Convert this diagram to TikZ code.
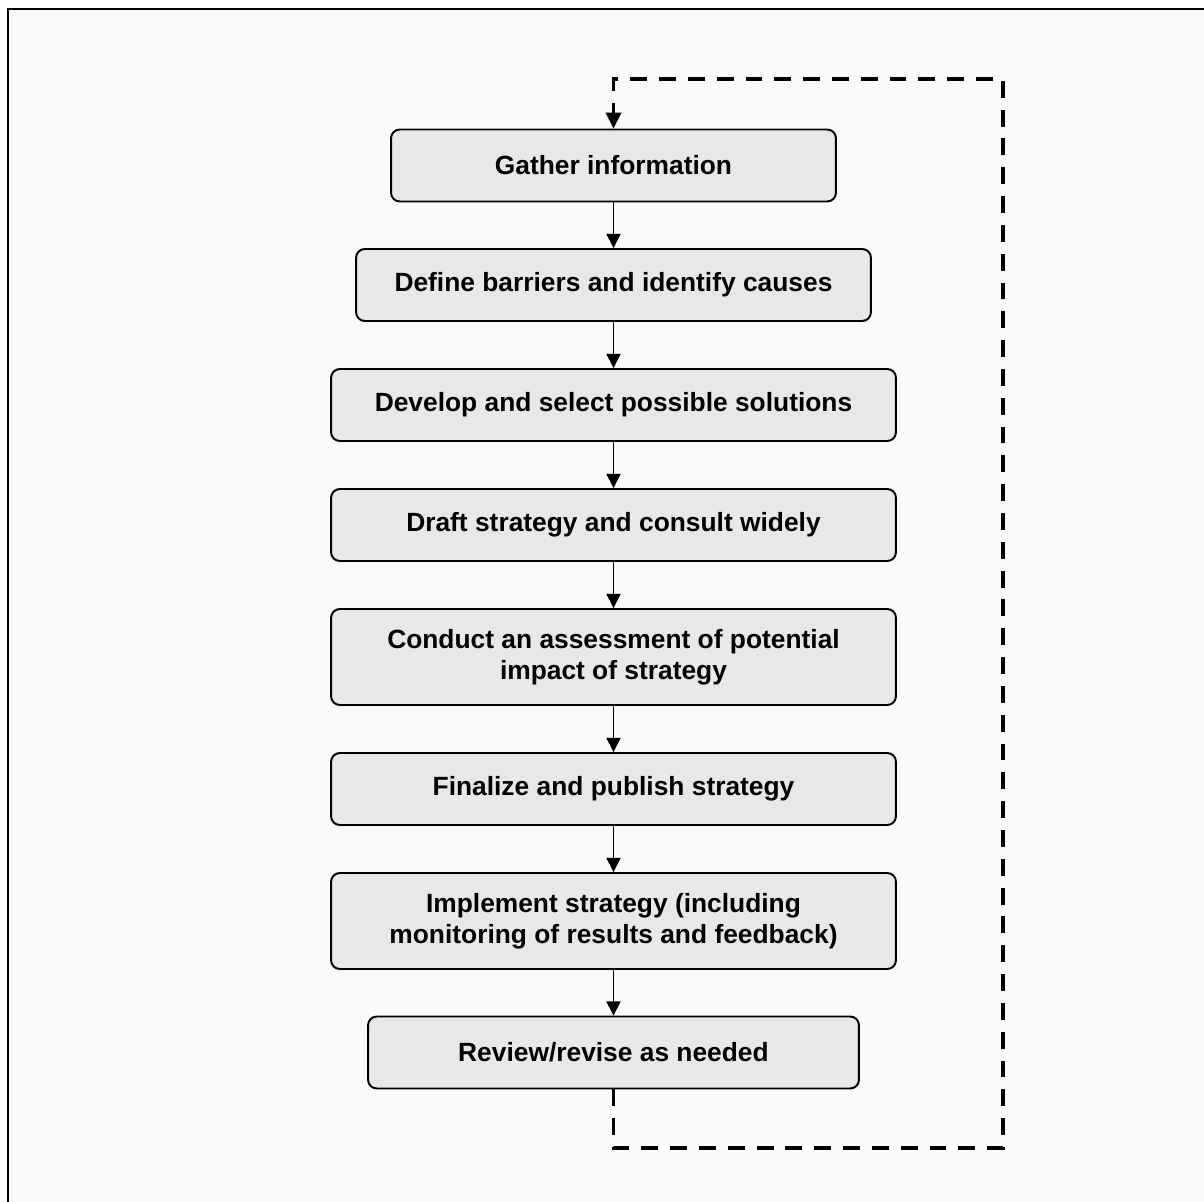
\documentclass[tikz,border=0pt]{standalone}
\usepackage{fontspec}
\setmainfont{Liberation Sans}
\usepackage{xcolor}
\usetikzlibrary{arrows.meta}
\definecolor{boxgray}{RGB}{232,232,232}
\definecolor{pagegray}{RGB}{250,250,250}

\begin{document}
\begin{tikzpicture}[x=0.02cm, y=-0.02cm,
    stepbox/.style={draw=black, line width=1.1pt, rounded corners=5pt, fill=boxgray,
      align=center, inner sep=0pt, minimum height=1.44cm,
      font=\bfseries\fontsize{15}{17.5}\selectfont},
    flow/.style={line width=0.9pt, -{Triangle[length=8pt,width=8pt]}},
    loopback/.style={line width=2pt, dash pattern=on 9.6pt off 6.8pt,
      -{Triangle[length=9pt,width=8.5pt]}}]
        %BINGKAI
        \useasboundingbox (0,0) rectangle (1204,1202);
        \fill[white] (0,0) rectangle (1204,1202);
        \fill[pagegray] (8,9) rectangle (1204,1202);
        \draw[line width=1.2pt] (8,1202) -- (8,9) -- (1204,9);
        %KOTAK LANGKAH
        \node[stepbox, minimum width=8.9cm] (gather) at (613.5,165.5) {Gather information};
        \node[stepbox, minimum width=10.3cm] (define) at (613.5,285) {Define barriers and identify causes};
        \node[stepbox, minimum width=11.3cm] (develop) at (613.5,405) {Develop and select possible solutions};
        \node[stepbox, minimum width=11.3cm] (draft) at (613.5,525) {Draft strategy and consult widely};
        \node[stepbox, minimum width=11.3cm, minimum height=1.92cm] (conduct) at (613.5,657) {Conduct an assessment of potential\\impact of strategy};
        \node[stepbox, minimum width=11.3cm] (finalize) at (613.5,789) {Finalize and publish strategy};
        \node[stepbox, minimum width=11.3cm, minimum height=1.92cm] (implement) at (613.5,921) {Implement strategy (including\\monitoring of results and feedback)};
        \node[stepbox, minimum width=9.82cm] (review) at (613.5,1052.5) {Review/revise as needed};
        %PANAH
        \draw[flow] (gather) -- (define);
        \draw[flow] (define) -- (develop);
        \draw[flow] (develop) -- (draft);
        \draw[flow] (draft) -- (conduct);
        \draw[flow] (conduct) -- (finalize);
        \draw[flow] (finalize) -- (implement);
        \draw[flow] (implement) -- (review);
        %GARIS BALIK
        \coordinate (loopBL) at (613.5,1148);
        \coordinate (loopBR) at (1003,1148);
        \coordinate (loopTR) at (1003,79);
        \coordinate (loopTL) at (613.5,79);
        \draw[loopback] (review.south) -- (loopBL) -- (loopBR) -- (loopTR) -- (loopTL) -- (gather.north);
\end{tikzpicture}
\end{document}
